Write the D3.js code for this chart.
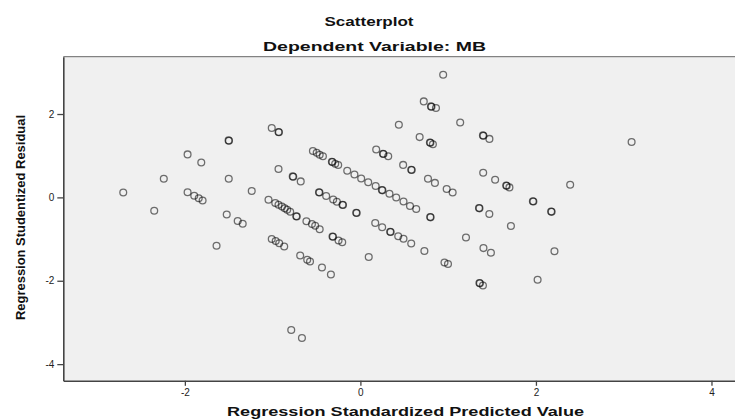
<!DOCTYPE html>
<html>
<head>
<meta charset="utf-8">
<script src="https://cdn.jsdelivr.net/npm/d3@7"></script>
<style>
  html, body { margin: 0; padding: 0; background: #fff; }
  svg { display: block; }
  text { font-family: "Liberation Sans", Arial, sans-serif; }
</style>
</head>
<body>
<svg id="chart" width="735" height="419"></svg>
<script>
// ---- data ----
const predicted = [
  -2.702, -2.349, -2.240, -1.969, -1.813, -1.969, -1.893, -1.842, -1.798, -1.502, -1.497, -1.500,
  -1.238, -1.523, -1.398, -1.341, -1.639, -1.010, -0.933, -0.928, -0.933, -0.771, -0.765, -0.680,
  -0.541, -0.498, -0.464, -0.427, -0.325, -0.319, -0.287, -0.253, -0.150, -0.068, 0.009, 0.089,
  0.174, 0.245, 0.251, 0.331, 0.408, 0.491, 0.565, 0.636, 0.795, 0.800,
  -1.047, -0.970, -0.933, -0.894, -0.862, -0.834, -0.800, -0.731, -0.725, -0.615, -0.552, -0.515,
  -0.464, -0.318, -0.312, -0.249, -0.207,
  -0.472, -0.466, -0.390, -0.310, -0.268, -0.204, -0.198, -0.048, -0.042, 0.169, 0.248, 0.339,
  0.345, 0.431, 0.491, 0.579, 0.729, 0.958, 0.998,
  -1.010, -0.965, -0.925, -0.868, -0.686, -0.606, -0.574, -0.438, -0.336, -0.788, -0.666, 0.095,
  0.943, 0.722, 0.804, 0.810, 0.861, 0.438, 1.137, 0.675, 0.792, 0.798, 0.826, 0.180, 0.257,
  0.263, 0.317, 0.487, 0.579, 0.585, 0.770, 0.849, 0.983, 1.051, 1.396, 1.402, 1.470, 3.090,
  1.399, 1.535, 1.661, 1.667, 1.698, 2.390, 1.965, 1.971, 1.351, 1.357, 1.469, 2.173, 2.179,
  1.715, 1.203, 1.402, 1.487, 2.211, 1.356, 1.362, 1.396, 2.019
];
const residual = [
  0.119, -0.320, 0.448, 1.031, 0.836, 0.124, 0.040, -0.020, -0.073, 1.367, 1.360, 0.448,
  0.155, -0.409, -0.565, -0.632, -1.160, 1.664, 1.568, 1.561, 0.680, 0.503, 0.496, 0.383,
  1.112, 1.072, 1.024, 0.988, 0.856, 0.849, 0.808, 0.776, 0.640, 0.548, 0.452, 0.364,
  0.272, 0.176, 0.169, 0.088, -0.001, -0.100, -0.208, -0.280, -0.472, -0.479,
  -0.056, -0.136, -0.176, -0.220, -0.260, -0.296, -0.344, -0.452, -0.459, -0.572, -0.640, -0.680,
  -0.764, -0.937, -0.944, -1.036, -1.076,
  0.124, 0.117, 0.032, -0.052, -0.104, -0.176, -0.183, -0.368, -0.375, -0.616, -0.716, -0.824,
  -0.831, -0.932, -0.992, -1.105, -1.285, -1.561, -1.597,
  -0.997, -1.048, -1.100, -1.177, -1.393, -1.496, -1.537, -1.681, -1.851, -3.181, -3.373, -1.429,
  2.943, 2.303, 2.183, 2.176, 2.144, 1.743, 1.796, 1.446, 1.316, 1.309, 1.276, 1.148, 1.048,
  1.041, 0.988, 0.779, 0.664, 0.657, 0.448, 0.347, 0.200, 0.116, 1.487, 1.480, 1.403, 1.328,
  0.592, 0.424, 0.284, 0.277, 0.239, 0.304, -0.092, -0.099, -0.256, -0.263, -0.397, -0.340, -0.347,
  -0.685, -0.964, -1.216, -1.328, -1.292, -2.055, -2.062, -2.113, -1.976
];
const xTicks = [-2, 0, 2, 4];
const yTicks = [-4, -2, 0, 2];
const titleText = "Scatterplot";
const subtitleText = "Dependent Variable: MB";
const xTitle = "Regression Standardized Predicted Value";
const yTitle = "Regression Studentized Residual";

// ---- layout ----
const svg = d3.select("#chart");
const plot = { left: 63.3, right: 735, top: 56.7, bottom: 380.8 };

const x = d3.scaleLinear().domain([-3.385, 4.268]).range([plot.left, plot.right]);
const y = d3.scaleLinear().domain([-4.40, 3.375]).range([plot.bottom, plot.top]);

// background
svg.append("rect")
  .attr("x", plot.left).attr("y", plot.top)
  .attr("width", plot.right - plot.left).attr("height", plot.bottom - plot.top)
  .attr("fill", "#f0f0f0");

// top border
svg.append("line")
  .attr("x1", plot.left).attr("x2", plot.right)
  .attr("y1", plot.top).attr("y2", plot.top)
  .attr("stroke", "#666").attr("stroke-width", 1);

// points
const pts = predicted.map((v, i) => ({ px: v, py: residual[i] }));
svg.append("g")
  .selectAll("circle")
  .data(pts)
  .join("circle")
  .attr("cx", d => x(d.px))
  .attr("cy", d => y(d.py))
  .attr("r", 3.4)
  .attr("fill", "none")
  .attr("stroke", "#000")
  .attr("stroke-opacity", 0.55)
  .attr("stroke-width", 1.3);

// axes (plain hyphen-minus labels as in the reference)
const fmt = d => String(d);
const xAxis = d3.axisBottom(x).tickValues(xTicks).tickFormat(fmt).tickSize(5).tickSizeOuter(0).tickPadding(3);
const yAxis = d3.axisLeft(y).tickValues(yTicks).tickFormat(fmt).tickSize(6).tickSizeOuter(0).tickPadding(3);

const gx = svg.append("g").attr("transform", `translate(0,${plot.bottom})`).call(xAxis);
const gy = svg.append("g").attr("transform", `translate(${plot.left},0)`).call(yAxis);

[gx, gy].forEach(g => {
  g.select(".domain").attr("stroke", "#444").attr("stroke-width", 1.6);
  g.selectAll(".tick line").attr("stroke", "#444").attr("stroke-width", 1.3);
  g.selectAll(".tick text")
    .attr("fill", "#222")
    .style("font-family", "'Liberation Sans', Arial, sans-serif")
    .style("font-size", "10px");
});

// titles
svg.append("text")
  .attr("x", 369).attr("y", 25.5)
  .attr("text-anchor", "middle")
  .attr("textLength", 89).attr("lengthAdjust", "spacingAndGlyphs")
  .style("font-weight", "bold").style("font-size", "12.8px")
  .attr("fill", "#111")
  .text(titleText);

svg.append("text")
  .attr("x", 374.5).attr("y", 51)
  .attr("text-anchor", "middle")
  .attr("textLength", 223).attr("lengthAdjust", "spacingAndGlyphs")
  .style("font-weight", "bold").style("font-size", "12.8px")
  .attr("fill", "#111")
  .text(subtitleText);

svg.append("text")
  .attr("x", 405.5).attr("y", 416)
  .attr("text-anchor", "middle")
  .attr("textLength", 357).attr("lengthAdjust", "spacingAndGlyphs")
  .style("font-weight", "bold").style("font-size", "12.8px")
  .attr("fill", "#111")
  .text(xTitle);

svg.append("text")
  .attr("transform", "translate(25,217.5) rotate(-90)")
  .attr("text-anchor", "middle")
  .attr("textLength", 205).attr("lengthAdjust", "spacingAndGlyphs")
  .style("font-weight", "bold").style("font-size", "13px")
  .attr("fill", "#111")
  .text(yTitle);
</script>
</body>
</html>
